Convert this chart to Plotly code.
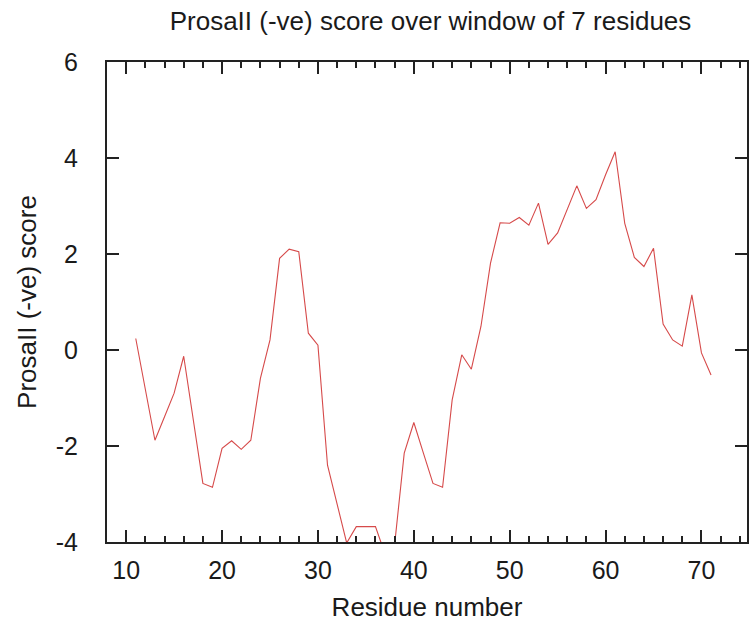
import plotly.graph_objects as go

residues = list(range(11, 72))
scores = [
    0.24, -0.80, -1.88, -1.39, -0.90, -0.13, -1.46, -2.78, -2.86, -2.05,
    -1.89, -2.07, -1.88, -0.59, 0.21, 1.91, 2.10, 2.05, 0.35, 0.10,
    -2.40, -3.19, -4.02, -3.68, -3.68, -3.68, -4.25, -4.05, -2.15, -1.51,
    -2.15, -2.78, -2.86, -1.04, -0.10, -0.40, 0.49, 1.81, 2.65, 2.64,
    2.76, 2.60, 3.06, 2.20, 2.44, 2.95, 3.42, 2.95, 3.13, 3.65,
    4.13, 2.64, 1.93, 1.74, 2.12, 0.54, 0.21, 0.08, 1.15, -0.06,
    -0.52,
]

x_ticks = [10, 20, 30, 40, 50, 60, 70]
y_ticks = [-4, -2, 0, 2, 4, 6]

FONT = "Liberation Sans, Arial, sans-serif"
TXT = "#1a1a1a"

fig = go.Figure()
fig.add_trace(go.Scatter(
    x=residues, y=scores, mode="lines",
    line=dict(color="#d64a4a", width=1.1),
    showlegend=False,
))

fig.update_layout(
    width=749, height=628,
    margin=dict(l=107, r=2, t=62, b=86, autoexpand=False),
    paper_bgcolor="white", plot_bgcolor="white",
    font=dict(family=FONT, color=TXT, size=25),
    title=dict(
        text="ProsaII (-ve) score over window of 7 residues",
        font=dict(family=FONT, size=26, color=TXT),
        x=(161 + 700) / 2 / 749, xref="container", xanchor="center",
        y=1 - 21 / 628, yref="container", yanchor="middle",
    ),
)

fig.update_xaxes(
    range=[8, 74.75], automargin=False,
    tickvals=x_ticks, ticktext=[str(v) for v in x_ticks],
    ticks="inside", ticklen=12, tickwidth=1.5, tickcolor="#222",
    minor=dict(dtick=2, tick0=0, ticks="inside", ticklen=6, tickwidth=1.5, tickcolor="#222", showgrid=False),
    showline=True, linewidth=2, linecolor="#222", mirror="ticks",
    showgrid=False, zeroline=False,
    tickfont=dict(family=FONT, size=25, color=TXT),
    ticklabelstandoff=5,
    title=dict(text="Residue number", font=dict(family=FONT, size=26, color=TXT), standoff=15),
)

fig.update_yaxes(
    range=[-4, 6], automargin=False,
    tickvals=y_ticks, ticktext=[str(v) for v in y_ticks],
    ticks="inside", ticklen=12, tickwidth=1.5, tickcolor="#222",
    showline=True, linewidth=2, linecolor="#222", mirror="ticks",
    showgrid=False, zeroline=False,
    tickfont=dict(family=FONT, size=25, color=TXT),
    ticklabelstandoff=22,
    title=dict(text="ProsaII (-ve) score", font=dict(family=FONT, size=26, color=TXT), standoff=12),
)

fig.write_html(
    "out.html",
    config={"displayModeBar": False},
    post_script="document.body.style.margin='0px';",
)
